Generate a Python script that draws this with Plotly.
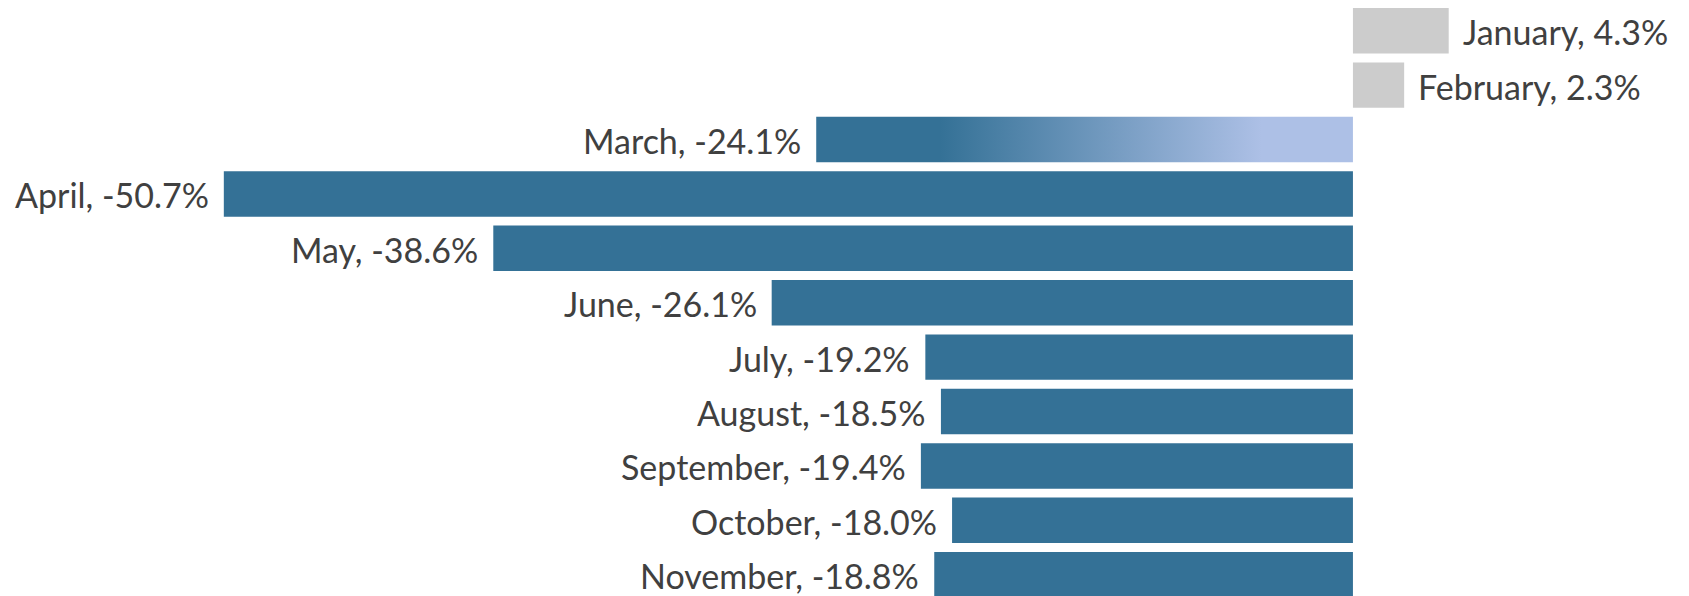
import plotly.graph_objects as go

months = ["January", "February", "March", "April", "May", "June", "July",
          "August", "September", "October", "November"]
values = [4.3, 2.3, -24.1, -50.7, -38.6, -26.1, -19.2, -18.5, -19.4, -18.0, -18.8]

DARK = "#347196"
LIGHT = "#adc0e6"
GRAY = "#cccccc"
TEXT = "#404040"
BAR_W = 0.835
GRADIENT_MONTH = "March"

idx = list(range(len(months)))
colors = []
for m, v in zip(months, values):
    if m == GRADIENT_MONTH:
        colors.append("rgba(0,0,0,0)")
    elif v >= 0:
        colors.append(GRAY)
    else:
        colors.append(DARK)

fig = go.Figure()
fig.add_trace(go.Bar(x=values, y=idx, orientation="h", width=BAR_W,
                     marker=dict(color=colors, line=dict(width=0)),
                     hoverinfo="skip"))

gi = months.index(GRADIENT_MONTH)
gv = values[gi]
fig.add_trace(go.Scatter(
    x=[gv, 0, 0, gv, gv],
    y=[gi - BAR_W / 2, gi - BAR_W / 2, gi + BAR_W / 2, gi + BAR_W / 2, gi - BAR_W / 2],
    mode="lines", line=dict(width=0), fill="toself",
    fillgradient=dict(type="horizontal",
                      colorscale=[[0, DARK], [0.23, DARK], [0.83, LIGHT], [1, LIGHT]]),
    hoverinfo="skip", showlegend=False))

for i, (m, v) in enumerate(zip(months, values)):
    fig.add_annotation(x=v, y=i, text=f"{m}, {v:.1f}%", showarrow=False,
                       xanchor="left" if v >= 0 else "right",
                       xshift=12 if v >= 0 else -13, yshift=-1,
                       font=dict(family="Lato", size=34, color=TEXT))

fig.update_layout(
    width=1689, height=596, margin=dict(l=0, r=0, t=0, b=0),
    paper_bgcolor="white", plot_bgcolor="white", showlegend=False,
    xaxis=dict(range=[-60.75, 15.09], visible=False, showgrid=False, zeroline=False),
    yaxis=dict(range=[10.391, -0.565], visible=False, showgrid=False, zeroline=False),
)
fig.write_html("out.html", config={"displayModeBar": False},
               post_script="document.body.style.margin='0';")
